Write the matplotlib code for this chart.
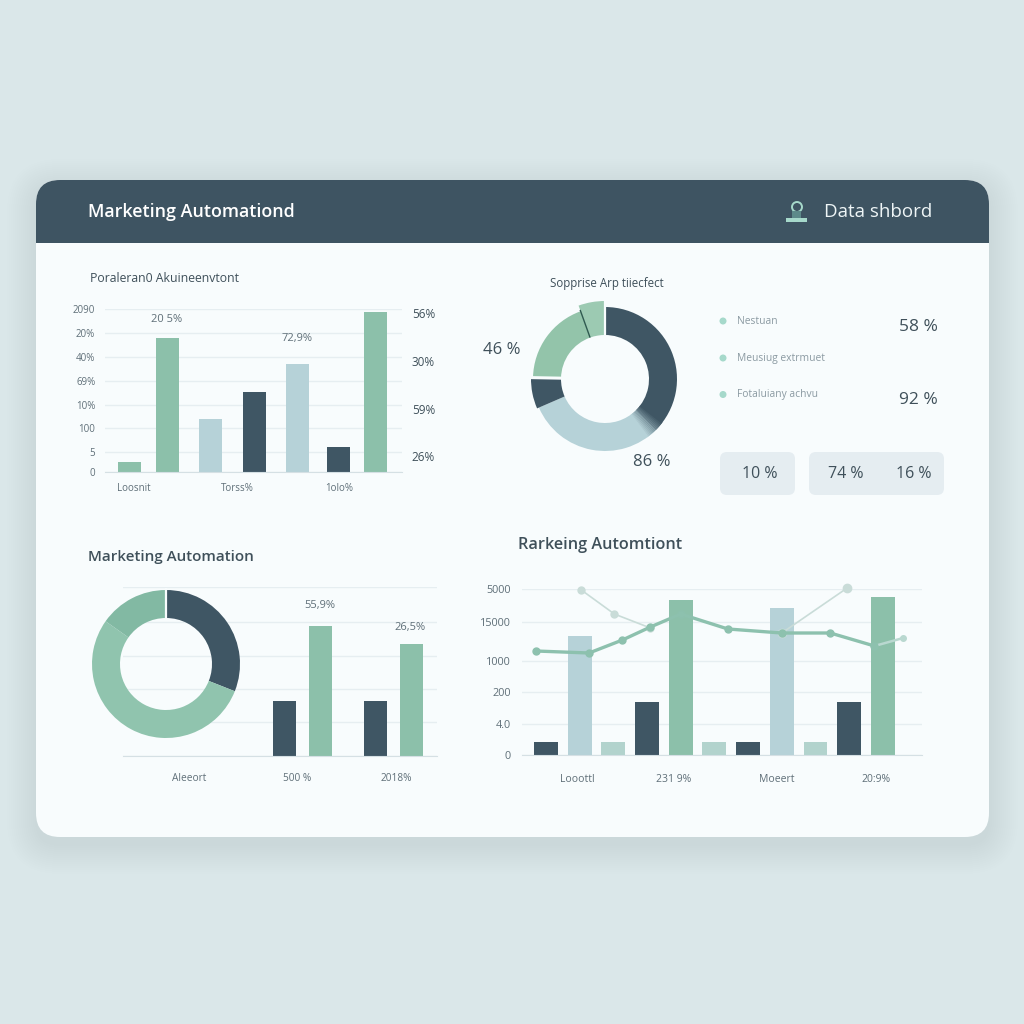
import matplotlib
matplotlib.use("Agg")
import matplotlib.pyplot as plt
import numpy as np
from matplotlib.colors import to_rgb
from matplotlib.patches import Circle, FancyBboxPatch, Rectangle, Wedge

plt.rcParams["font.family"] = ["Open Sans", "DejaVu Sans"]

DARK = "#3f5664"
GREEN = "#8cc0aa"
BLUE = "#b6d2d8"
PALE = "#b2d3cd"
MINT = "#a6d9cb"
GRID = "#e6eef1"
AXIS = "#d5e0e4"
TEXT = "#3f505a"
LABEL = "#5f6f78"
CARD = "#f8fcfd"
PAGE = "#dae7e9"

# top left bars
bar1_values = [10, 134, 53, 80, 108, 25, 160]
bar1_colors = [GREEN, GREEN, BLUE, DARK, BLUE, DARK, GREEN]
bar1_slots = [129, 167, 210, 254, 297, 338, 375]
bar1_ticks = [0, 20, 44, 67, 91, 115, 139, 163]
bar1_ticklabels = ["0", "5", "100", "10%", "69%", "40%", "20%", "2090"]
bar1_right_ticks = [16, 62.5, 110.5, 159]
bar1_right_labels = ["26%", "59%", "30%", "56%"]
bar1_xlabels = ["Loosnit", "Torss%", "1olo%"]
bar1_xlabel_slots = [134, 237, 339]

# top right donut
donut1_values = [37.5, 31, 6.8, 19.2, 5.5]
donut1_colors = [DARK, BLUE, DARK, "#93c4aa", "#9ccab2"]
legend_names = ["Nestuan", "Meusiug extrmuet", "Fotaluiany achvu"]
legend_values = ["58 %", "", "92 %"]
box_labels = ["10 %", "74 %", "16 %"]

# bottom left donut and bars
donut2_values = [31, 53.8, 15.2]
donut2_colors = [DARK, "#90c4ae", "#82b9a3"]
bar3_values = [55, 130, 55, 112]
bar3_colors = [DARK, GREEN, DARK, GREEN]
bar3_slots = [284, 320, 375, 411]
bar3_ticks = [0, 34, 67, 100, 134, 169]
bar3_xlabels = ["Aleeort", "500 %", "2018%"]
bar3_xlabel_slots = [189, 297, 396]

# bottom right bars and lines
bar4_values = [13, 119, 13, 53, 155, 13, 13, 147, 13, 53, 158]
bar4_colors = [DARK, BLUE, PALE, DARK, GREEN, PALE, DARK, BLUE, PALE, DARK, GREEN]
bar4_ticks = [0, 31, 63, 94, 133, 166]
bar4_ticklabels = ["0", "4.0", "200", "1000", "15000", "5000"]
bar4_xlabels = ["Looottl", "231 9%", "Moeert", "20:9%"]
bar4_xlabel_pos = [0.93, 3.8, 6.85, 9.8]
line_x = [-0.3, 1.28, 2.27, 3.1, 4.0, 5.4, 7.0, 8.44, 9.75]
line_y = [104, 102, 115, 128, 141, 126, 122, 122, 109]
tail_x = [9.75, 10.6]
tail_y = [109, 117]
thin1_x = [1.05, 2.03, 3.1]
thin1_y = [165, 141, 127]
thin2_x = [7.0, 8.94]
thin2_y = [122, 167]

fig = plt.figure(figsize=(10.24, 10.24), dpi=100, facecolor=PAGE)


def px_axes(x0, y0, x1, y1):
    ax = fig.add_axes([x0 / 1024, 1 - y1 / 1024, (x1 - x0) / 1024, (y1 - y0) / 1024])
    ax.patch.set_visible(False)
    return ax


def style_bars(ax, ticks, labels, size=7, grid=GRID, pad=7):
    for s in ["top", "left", "right"]:
        ax.spines[s].set_visible(False)
    ax.spines["bottom"].set_color(AXIS)
    ax.set_yticks(ticks)
    ax.set_yticklabels(labels, fontsize=size, color=LABEL)
    ax.tick_params(length=0, pad=pad)
    ax.grid(axis="y", color=grid, lw=1)
    ax.set_axisbelow(True)


def donut(center, radius, inner, values, colors):
    # axes is a bit larger than the ring so the popped wedge fits
    r = radius * 1.25
    ax = px_axes(center[0] - r, center[1] - r, center[0] + r, center[1] + r)
    wedges, _ = ax.pie(values, colors=colors, startangle=90, counterclock=False, radius=1,
                       wedgeprops=dict(width=1 - inner / radius, linewidth=0))
    ax.set_xlim(-1.25, 1.25)
    ax.set_ylim(-1.25, 1.25)
    return ax, wedges


def spoke(ax, value_sum, total, r0, r1, color, lw):
    a = np.pi / 2 - 2 * np.pi * value_sum / total
    ax.plot([r0 * np.cos(a), r1 * np.cos(a)], [r0 * np.sin(a), r1 * np.sin(a)], color=color, lw=lw,
            solid_capstyle="butt")


# page, shadow, card and header
bg = px_axes(0, 0, 1024, 1024)
bg.set_xlim(0, 1024)
bg.set_ylim(1024, 0)
bg.axis("off")
box = dict(boxstyle="round,pad=0,rounding_size=24")
for grow in range(1, 30, 2):
    bg.add_patch(FancyBboxPatch((36 - grow, 188 - grow), 953 + 2 * grow, 657 + 2 * grow, fc="#7f9aa3",
                                ec="none", alpha=0.004, boxstyle="round,pad=0,rounding_size=%d" % (24 + grow)))
bg.add_patch(FancyBboxPatch((36, 180), 953, 657, fc=CARD, ec="none", **box))
head = FancyBboxPatch((36, 180), 953, 657, fc="#3e5462", ec="none", **box)
bg.add_patch(head)
head.set_clip_path(Rectangle((0, 0), 1024, 243, transform=bg.transData))
bg.text(88, 212, "Marketing Automationd", color="white", fontsize=12.9, va="center", weight="semibold")
bg.text(824, 212, "Data shbord", color="#eef5f6", fontsize=13.5, va="center")
bg.add_patch(Circle((797, 207), 5, fc="none", ec="#a6d9cb", lw=1.4))
bg.add_patch(Rectangle((786, 218), 21, 4, fc="#a6d9cb", ec="none"))
bg.add_patch(Rectangle((792, 211), 9, 7, fc="#5d8a8a", ec="none"))

bg.text(90, 279, "Poraleran0 Akuineenvtont", color=TEXT, fontsize=8.8, va="center")
bg.text(550, 283, "Sopprise Arp tiiecfect", color=TEXT, fontsize=8.3, va="center")
bg.text(88, 557, "Marketing Automation", color=TEXT, fontsize=10.9, va="center", weight="semibold")
bg.text(518, 545, "Rarkeing Automtiont", color=TEXT, fontsize=11.7, va="center", weight="semibold")

# top left chart
ax1 = px_axes(105, 309, 402, 472)
ax1.set_xlim(105, 402)
ax1.set_ylim(0, 163)
ax1.bar(bar1_slots, bar1_values, width=23, color=bar1_colors)
style_bars(ax1, bar1_ticks, bar1_ticklabels)
ax1.set_xticks(bar1_xlabel_slots)
ax1.set_xticklabels(bar1_xlabels, fontsize=7, color=LABEL)
ax1.tick_params(axis="x", pad=8)
ax1.annotate("20 5%", (bar1_slots[1], bar1_values[1]), xytext=(0, 13), textcoords="offset points",
             ha="center", va="center", fontsize=8, color=LABEL)
ax1.annotate("72,9%", (bar1_slots[4], bar1_values[4]), xytext=(0, 18), textcoords="offset points",
             ha="center", va="center", fontsize=8, color=LABEL)
ax1r = ax1.twinx()
ax1r.set_ylim(0, 163)
ax1r.set_yticks(bar1_right_ticks)
ax1r.set_yticklabels(bar1_right_labels, fontsize=8.5, color=TEXT)
ax1r.tick_params(length=0, pad=7)
for s in ax1r.spines.values():
    s.set_visible(False)

# top right donut
ax2, w2 = donut((605, 379), 72, 44, donut1_values, donut1_colors)
w2[4].set_radius(78 / 72)
w2[4].set_width(34 / 72)
w2[2].set_radius(74 / 72)
w2[2].set_width(30 / 72)
total = sum(donut1_values)
start = 360 * donut1_values[0] / total
c0, c1 = np.array(to_rgb(DARK)), np.array(to_rgb(BLUE))
for i, t in enumerate(np.linspace(0, 1, 14)):
    a = 90 - start + 8 - i * 16 / 13
    ax2.add_patch(Wedge((0, 0), 1, a - 1.3, a, width=1 - 44 / 72, fc=c0 + (c1 - c0) * t, ec="none"))
spoke(ax2, sum(donut1_values[:3]), total, 40 / 72, 80 / 72, CARD, 2.2)
spoke(ax2, sum(donut1_values[:4]), total, 44 / 72, 1.02, "#2f5a50", 1)
spoke(ax2, 0, total, 44 / 72, 80 / 72, CARD, 1.6)

bg.text(483, 350, "46 %", fontsize=12, color=TEXT, va="center")
bg.text(633, 462, "86 %", fontsize=12, color=TEXT, va="center")
for y, name, val in zip([321, 358, 394.5], legend_names, legend_values):
    bg.add_patch(Circle((723, y), 3.5, fc=MINT, ec="none"))
    bg.text(737, y, name, fontsize=7.4, color="#8b9aa2", va="center")
    if val:
        bg.text(938, y + 6, val, fontsize=12.5, color=TEXT, va="center", ha="right")
for x, w in [(720, 75), (809, 135)]:
    bg.add_patch(FancyBboxPatch((x, 452), w, 43, fc="#e5edf1", ec="none",
                                boxstyle="round,pad=0,rounding_size=7"))
for x, label in zip([760, 846, 914], box_labels):
    bg.text(x, 474, label, fontsize=11.5, color=TEXT, ha="center", va="center")

# bottom left chart
ax3 = px_axes(123, 587, 437, 756)
ax3.set_xlim(123, 437)
ax3.set_ylim(0, 169)
ax3.bar(bar3_slots, bar3_values, width=23, color=bar3_colors)
style_bars(ax3, bar3_ticks, [""] * len(bar3_ticks))
ax3.set_xticks(bar3_xlabel_slots)
ax3.set_xticklabels(bar3_xlabels, fontsize=7.3, color=LABEL)
ax3.tick_params(axis="x", pad=12)
ax3.annotate("55,9%", (bar3_slots[1], bar3_values[1]), xytext=(0, 15), textcoords="offset points",
             ha="center", va="center", fontsize=8, color=LABEL)
ax3.annotate("26,5%", (bar3_slots[3], bar3_values[3]), xytext=(-1, 12), textcoords="offset points",
             ha="center", va="center", fontsize=8, color=LABEL)
ax3d, w3 = donut((166, 664), 74, 46, donut2_values, donut2_colors)
spoke(ax3d, 0, sum(donut2_values), 44 / 74, 1.03, CARD, 1.6)

# bottom right chart
ax4 = px_axes(522, 589, 922, 755)
ax4.set_xlim(-0.71, 11.16)
ax4.set_ylim(0, 166)
xs = np.arange(len(bar4_values))
ax4.bar(xs, bar4_values, width=0.71, color=bar4_colors)
style_bars(ax4, bar4_ticks, bar4_ticklabels, size=7.8, pad=8)
ax4.set_xticks(bar4_xlabel_pos)
ax4.set_xticklabels(bar4_xlabels, fontsize=7.5, color=LABEL)
ax4.tick_params(axis="x", pad=14)
ax4.plot(thin1_x, thin1_y, color="#c9dcd8", lw=1.2, marker="o", ms=5, zorder=3, clip_on=False)
ax4.plot(thin2_x, thin2_y, color="#c9dcd8", lw=1.2, marker="o", ms=6, zorder=3, clip_on=False)
ax4.plot(tail_x, tail_y, color="#b9d8d0", lw=1.8, marker="o", ms=4, zorder=3)
ax4.plot(line_x, line_y, color="#8dc1ae", lw=2.4, marker="o", ms=5, zorder=4, clip_on=False)

fig.savefig("out.png", dpi=100, facecolor=PAGE)
plt.close(fig)
